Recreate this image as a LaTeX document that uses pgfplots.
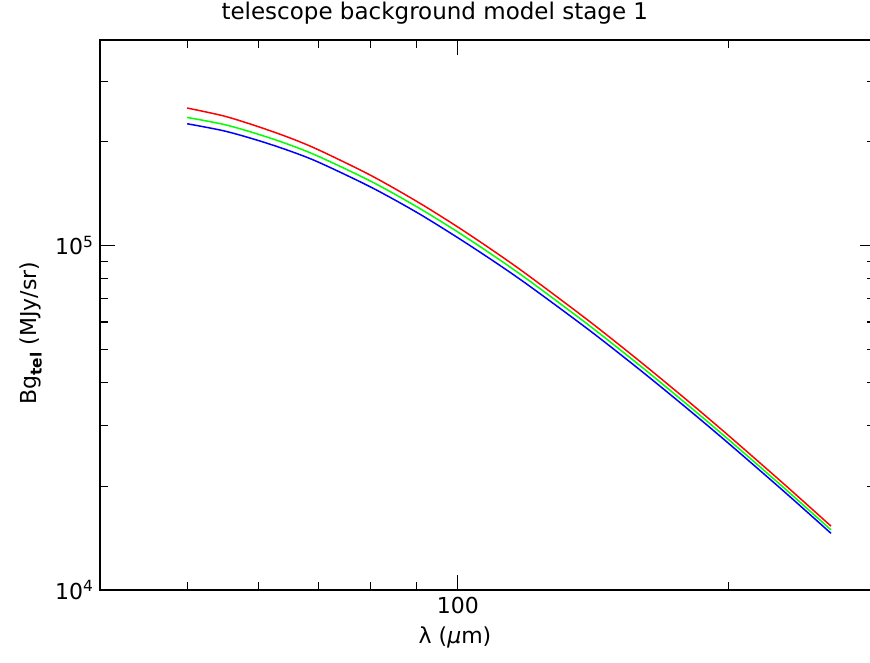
\documentclass[border=0pt]{standalone}
\usepackage{fontspec}
\setmainfont{DejaVu Sans}
\usepackage{pgfplots}
\pgfplotsset{compat=1.18}

% red / green / blue model curves (lambda in micron, MJy/sr)
\pgfplotstableread{
lam   red      green    blue
50    2.506e5  2.353e5  2.256e5
55    2.374e5  2.244e5  2.150e5
60    2.212e5  2.103e5  2.017e5
65    2.054e5  1.960e5  1.882e5
70    1.895e5  1.814e5  1.745e5
80    1.598e5  1.537e5  1.478e5
90    1.343e5  1.296e5  1.248e5
100   1.131e5  1.094e5  1.053e5
110   9.574e4  9.277e4  8.945e4
120   8.153e4  7.912e4  7.643e4
140   6.028e4  5.857e4  5.678e4
160   4.571e4  4.446e4  4.320e4
180   3.547e4  3.450e4  3.360e4
200   2.807e4  2.733e4  2.665e4
230   2.040e4  1.989e4  1.942e4
260   1.532e4  1.494e4  1.460e4
}\bgtel

\begin{document}
\begin{tikzpicture}
\begin{loglogaxis}[
    name=ax,
    scale only axis,
    width=775pt, height=550pt,
    xmin=40, xmax=291,
    ymin=1e4, ymax=3.95e5,
    axis line style={line width=1.6pt},
    tick style={line width=1.2pt, black},
    tick align=inside,
    major tick length=15pt,
    minor tick length=8pt,
    xtick={100}, xticklabels={100},
    minor xtick={50,60,70,80,90,200},
    ytick={1e4,1e5}, yticklabels={10\textsuperscript{4},10\textsuperscript{5}},
    minor ytick={2e4,3e4,4e4,5e4,6e4,7e4,8e4,9e4,2e5,3e5},
    ticklabel style={font=\fontsize{22}{25}\selectfont},
    xticklabel style={yshift=-4pt},
    yticklabel style={xshift=-3pt},
    xlabel={λ (\textit{μ}m)},
    ylabel={Bg\textsubscript{\textbf{tel}} (MJy/sr)},
    label style={font=\fontsize{22}{25}\selectfont},
    xlabel style={at={(axis description cs:0.458,-0.087)}, anchor=center},
    ylabel style={at={(axis description cs:-0.089,0.467)}, anchor=center},
    every axis plot/.append style={line width=1.5pt, smooth},
]
\addplot[color=red]   table[x=lam, y=red]   {\bgtel};
\addplot[color=green] table[x=lam, y=green] {\bgtel};
\addplot[color=blue]  table[x=lam, y=blue]  {\bgtel};
\end{loglogaxis}
% title, centred on the window rather than on the axis
\path (ax.north west) -- (ax.north east)
    node[pos=0.432, anchor=base, yshift=20pt, font=\fontsize{23}{26}\selectfont]
    {telescope background model stage 1};
\pgfresetboundingbox
\path ([xshift=-100pt,yshift=-72pt]ax.south west) rectangle ([xshift=-5pt,yshift=40pt]ax.north east);
\end{tikzpicture}
\end{document}
